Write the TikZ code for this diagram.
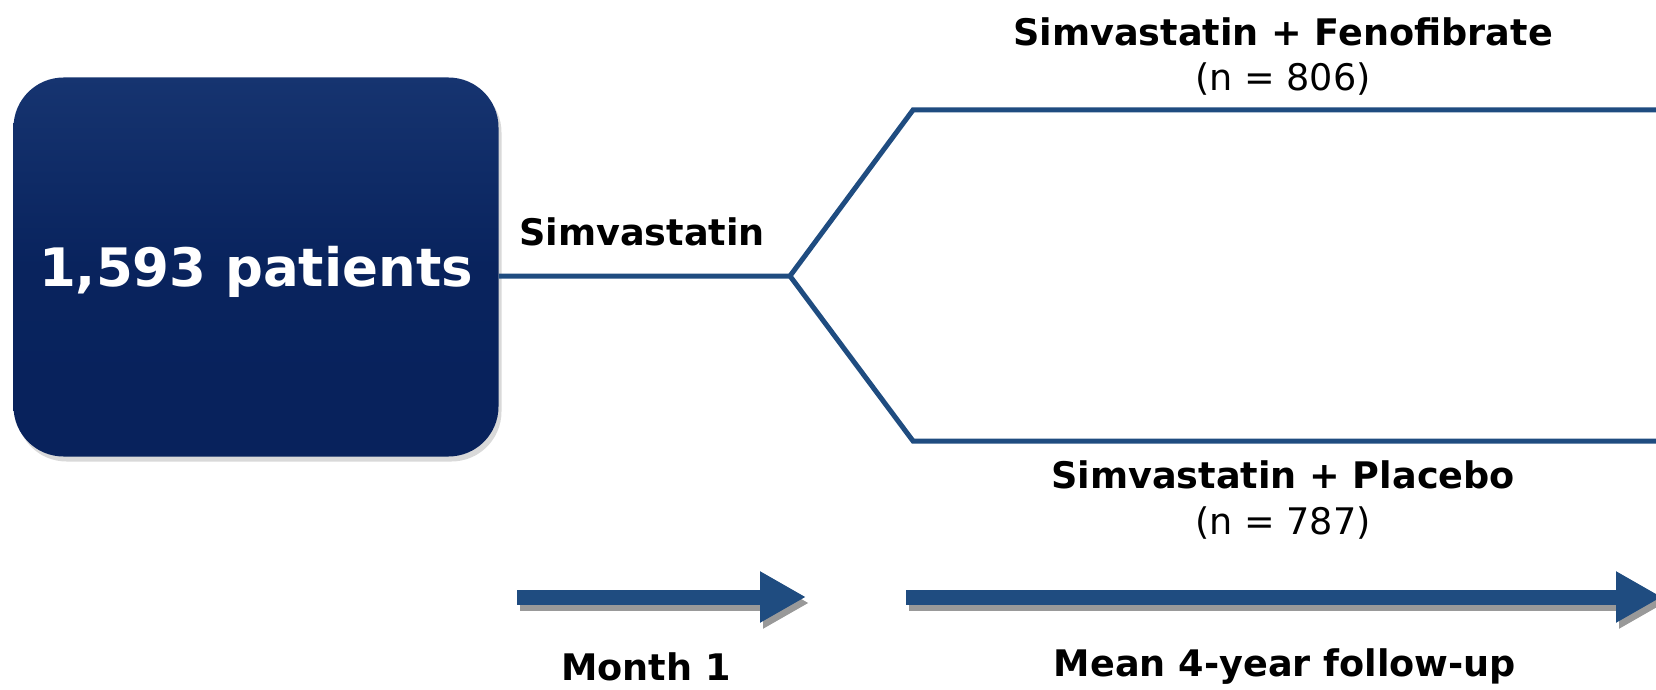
\documentclass[tikz,border=0pt]{standalone}
\usepackage{fontspec}
\setmainfont{DejaVu Sans}
\setsansfont{DejaVu Sans}
\usetikzlibrary{arrows.meta,positioning,shadows}
\definecolor{navy}{RGB}{8,34,92}
\definecolor{navytop}{RGB}{22,52,112}
\definecolor{armblue}{RGB}{31,76,128}

\begin{document}
\begin{tikzpicture}[x=0.5pt, y=-0.5pt, font=\sffamily\fontsize{18.3}{22}\selectfont, patients/.style={rectangle, rounded corners=25pt, minimum width=242.5pt, minimum height=189.5pt, top color=navytop, bottom color=navy, middle color=navy!95!navytop, draw=none, drop shadow={opacity=0.3, shadow xshift=1.5pt, shadow yshift=-2.5pt}}, pattext/.style={text=white, font=\sffamily\bfseries\fontsize{26.5}{30}\selectfont}, label/.style={font=\sffamily\bfseries\fontsize{18.3}{22}\selectfont}, count/.style={font=\sffamily\fontsize{18.3}{22}\selectfont}, arm/.style={draw=armblue, line width=2.5pt, line join=miter}, timeline/.style={draw=armblue, line width=7.5pt, -{Triangle[length=23pt, width=24pt]}}, tshadow/.style={draw=black!40, line width=7.5pt, -{Triangle[length=23pt, width=24pt]}}]
\useasboundingbox (0,0) rectangle (1656,690);
\node[patients] (pat) at (256,267) {};
\node[pattext] (pattxt) at (256,272) {1,593 patients};
\coordinate (split) at (790,276);
\coordinate (upL) at (913,110); \coordinate (upR) at (1660,110);
\coordinate (loL) at (913,441); \coordinate (loR) at (1660,441);
\draw[arm] (pat.east |- split) -- (split) -- (upL) -- (upR);
\draw[arm] (split) -- (loL) -- (loR);
\node[label] (sim) at (642,232) {Simvastatin};
\node[label] (feno) at (1283,32) {Simvastatin + Fenofibrate};
\node[count] (nfeno) at (1283,79) {(n = 806)};
\node[label] (plac) at (1283,475) {Simvastatin + Placebo};
\node[count] (nplac) at (1283,523) {(n = 787)};
% time arrows
\coordinate (m1s) at (517,597); \coordinate (m1e) at (806,597);
\coordinate (fus) at (906,597); \coordinate (fue) at (1662,597);
\draw[tshadow] ([shift={(3,6)}]m1s) -- ([shift={(3,6)}]m1e);
\draw[tshadow] ([shift={(3,6)}]fus) -- ([shift={(3,6)}]fue);
\draw[timeline] (m1s) -- (m1e);
\draw[timeline] (fus) -- (fue);
\node[label] (month) at (646,667) {Month 1};
\node[label] (mean) at (1285,667) {Mean 4-year follow-up};
\end{tikzpicture}
\end{document}
